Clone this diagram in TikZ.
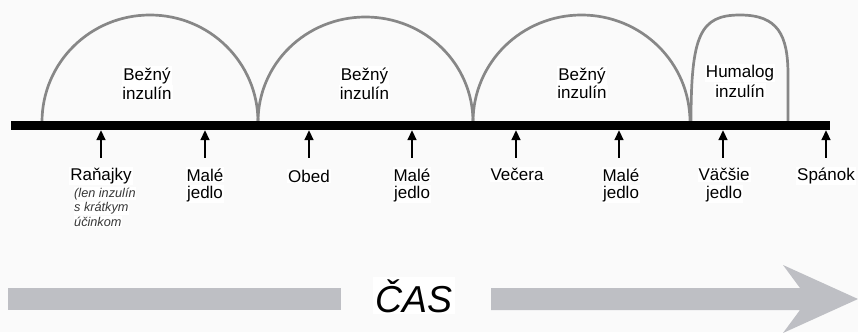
\documentclass[tikz,border=0pt]{standalone}
\usepackage{fontspec}
\setmainfont{Liberation Sans}
\usetikzlibrary{arrows.meta}
\definecolor{archgray}{RGB}{135,135,135}
\definecolor{bargray}{RGB}{190,191,196}
\definecolor{notegray}{RGB}{55,55,55}
\definecolor{bgcol}{RGB}{250,250,250}
\begin{document}
\begin{tikzpicture}[x=1pt,y=-1pt,
  lbl/.style={font=\fontsize{17}{19}\selectfont, anchor=base, inner sep=1pt, fill=white, text=black},
  note/.style={font=\fontsize{12.7}{14.5}\selectfont\itshape, anchor=base west, inner sep=0.5pt, fill=white, text=notegray},
  arch/.style={draw=archgray, line width=2.7pt},
  tickarrow/.style={line width=2.7pt, -{Triangle[width=8.5pt,length=10pt]}},
  casfont/.style={font=\fontsize{37.5}{40}\selectfont\itshape, anchor=base, inner sep=2pt, fill=white}
]
\fill[bgcol] (0,0) rectangle (858,332);
\useasboundingbox (0,0) rectangle (858,332);

% arches
\draw[arch] (42,122) .. controls (42,62.5) and (90.4,15) .. (150,15)
            .. controls (209.6,15) and (258,62.5) .. (258,122);
\draw[arch] (258,122) .. controls (258,63.6) and (306.1,17) .. (365.5,17)
            .. controls (424.9,17) and (473,63.6) .. (473,122);
\draw[arch] (473,122) .. controls (473,62.5) and (521.6,15) .. (581.5,15)
            .. controls (641.4,15) and (690,62.5) .. (690,122);
\draw[arch] (691,122) .. controls (691,35) and (700,15) .. (740,15)
            .. controls (778,15) and (788,35) .. (788,75) -- (788,122);

% arch labels
\node[lbl] (b1a) at (147,80) {Bežný};
\node[lbl] (b1b) at (147,99) {inzulín};
\node[lbl] (b2a) at (364.5,80) {Bežný};
\node[lbl] (b2b) at (364.5,99) {inzulín};
\node[lbl] (b3a) at (582,80) {Bežný};
\node[lbl] (b3b) at (582,98.5) {inzulín};
\node[lbl] (h1a) at (740,77) {Humalog};
\node[lbl] (h1b) at (740,97) {inzulín};

% timeline bar
\fill[black] (11,121) rectangle (830,130);

% arrows
\foreach \i/\x in {1/101,2/205,3/309,4/412,5/516,6/619,7/723,8/826}{
  \coordinate (tip\i) at (\x,130);
  \coordinate (tail\i) at (\x,157.5);
  \draw[tickarrow] (tail\i) -- (tip\i);
}

% labels under the timeline
\node[lbl] (r1) at (101,180.5) {Raňajky};
\node[note] (n1) at (73.5,197) {(len inzulín};
\node[note] (n2) at (73.5,211.5) {s krátkym};
\node[note] (n3) at (73.5,226) {účinkom};
\node[lbl] (m1a) at (205,181) {Malé};
\node[lbl] (m1b) at (205,198.5) {jedlo};
\node[lbl] (o1) at (309,182) {Obed};
\node[lbl] (m2a) at (412,181) {Malé};
\node[lbl] (m2b) at (412,198.5) {jedlo};
\node[lbl] (v1) at (517,180.5) {Večera};
\node[lbl] (m3a) at (621,181) {Malé};
\node[lbl] (m3b) at (621,198.5) {jedlo};
\node[lbl] (v2a) at (724,180.5) {Väčšie};
\node[lbl] (v2b) at (724,198.5) {jedlo};
\node[lbl] (s1) at (826,180.5) {Spánok};

% time arrow
\fill[bargray] (8,288) rectangle (341,310);
\fill[bargray] (491,288) -- (800,288) -- (783,265) -- (858,299) -- (783,333) -- (800,310) -- (491,310) -- cycle;
\node[casfont] (cas) at (414,312) {ČAS};
\end{tikzpicture}
\end{document}
